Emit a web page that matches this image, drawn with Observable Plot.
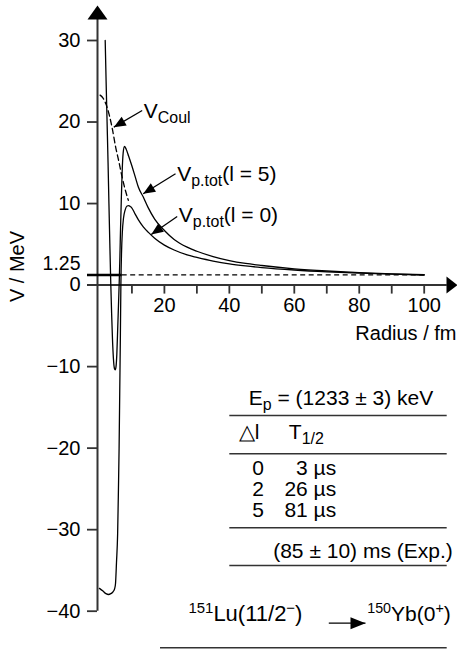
<!DOCTYPE html>
<html><head><meta charset="utf-8">
<script src="https://cdn.jsdelivr.net/npm/d3@7"></script>
<script src="https://cdn.jsdelivr.net/npm/@observablehq/plot@0.6"></script>
<style>html,body{margin:0;padding:0;background:#fff;}#chart svg{display:block;}</style>
</head><body><div id="chart"></div>
<script>
// ---------- data ----------
const radiusL0 = [0, 1, 2, 2.8, 3.5, 4.0, 4.4, 4.7, 4.95, 5.25, 5.6, 5.85, 6.05, 6.25, 6.45, 6.6, 6.8, 7.05, 7.4, 7.9, 8.5, 9.0, 9.6, 10, 11, 12, 13.5, 15, 17, 20, 23, 27, 30, 35, 40, 45, 50, 60, 70, 80, 90, 100];
const potentialL0 = [-37.2, -37.5, -37.85, -37.95, -37.85, -37.7, -37.5, -37.2, -36.6, -34, -30.5, -25, -20, -13, -6, 0, 4, 6.5, 8.2, 9.2, 9.7, 9.75, 9.6, 9.45, 8.7, 8.0, 7.15, 6.5, 5.75, 4.9, 4.3, 3.7, 3.4, 2.95, 2.6, 2.35, 2.15, 1.85, 1.63, 1.47, 1.34, 1.24];
const radiusL5 = [1.77, 2.05, 2.35, 2.65, 2.92, 3.2, 3.5, 3.75, 4.0, 4.3, 4.6, 4.85, 5.1, 5.35, 5.65, 5.9, 6.1, 6.3, 6.5, 6.75, 7.0, 7.3, 7.7, 8.2, 9, 10, 11, 12, 13.5, 15, 17, 20, 23, 27, 30, 35, 40, 45, 50, 60, 70, 80, 90, 100];
const potentialL5 = [30, 25, 20, 15, 10, 5, 0, -3.5, -6.5, -9, -10.2, -10.4, -10, -8.5, -5, -2, 0.5, 3.5, 7, 10.8, 14, 16.2, 17.0, 16.7, 15.8, 14.6, 13.3, 12.0, 10.8, 9.5, 8.1, 6.7, 5.6, 4.65, 4.15, 3.5, 3.0, 2.65, 2.4, 2.0, 1.73, 1.53, 1.38, 1.27];
const radiusCoul = [0.2, 1, 2, 3, 4, 5, 5.9, 7, 8, 8.9];
const potentialCoul = [23.3, 23.0, 22.2, 20.9, 19.1, 16.9, 15.3, 13.2, 11.6, 10.4];
const protonEnergy = 1.25;
const xTicks = [10, 20, 30, 40, 50, 60, 70, 80, 90, 100];
const xTickLabels = [20, 40, 60, 80, 100];
const yTicks = [30, 20, 10, 0, -10, -20, -30, -40];
const deltaL = [0, 2, 5];
const halfLives = ["3 µs", "26 µs", "81 µs"];
const labelCoul = "V_{Coul}";
const labelL5 = "V_{p.tot}(l = 5)";
const labelL0 = "V_{p.tot}(l = 0)";
const tableTitle = "E_{p} = (1233 ± 3) keV";
const tableHead = ["△l", "T_{1/2}"];
const expLine = "(85 ± 10) ms (Exp.)";
const decayFrom = "^{151}Lu(11/2^{−})";
const decayTo = "^{150}Yb(0^{+})";

// ---------- layout ----------
const W = 457, H = 649;
const mL = 97, mR = 33.3, mT = 40, mB = 38.3;
const xDomain = [-0.6, 100], yDomain = [-40, 30];
const KX = (W - mL - mR) / (xDomain[1] - xDomain[0]);
const KY = (H - mT - mB) / (yDomain[1] - yDomain[0]);
const ink = "#000", axisInk = "#333";
const FONT = "'Liberation Sans', Arial, Helvetica, sans-serif";
const fsTick = 20, fsAnn = 21, fsDecay = 22;

const yAxisX = xDomain[0], yAxisTop = 32.7, yArrowTip = 34.3;
const xAxisLeft = -3.68, xAxisRight = 107.1, xArrowTip = 110.25;

const l0Data = radiusL0.map((r, i) => ({r, V: potentialL0[i]}));
const l5Data = radiusL5.map((r, i) => ({r, V: potentialL5[i]}));
const coulData = radiusCoul.map((r, i) => ({r, V: potentialCoul[i]}));

function headSymbol(len, width, angleDeg) {
  const a = angleDeg * Math.PI / 180, c = Math.cos(a), s = Math.sin(a);
  const pts = [[0, 0], [-width / 2, len], [width / 2, len]].map(([x, y]) => [x * c - y * s, x * s + y * c]);
  return {draw(ctx) { ctx.moveTo(pts[0][0], pts[0][1]); ctx.lineTo(pts[1][0], pts[1][1]); ctx.lineTo(pts[2][0], pts[2][1]); ctx.closePath(); }};
}
function angleOf(from, to) {
  const dx = (to[0] - from[0]) * KX, dy = -(to[1] - from[1]) * KY;
  return Math.atan2(dx, -dy) * 180 / Math.PI;
}
function arrow(from, to, len, width, sw = 1.3) {
  return [
    Plot.link([0], {x1: () => from[0], y1: () => from[1], x2: () => to[0], y2: () => to[1], stroke: ink, strokeWidth: sw}),
    Plot.dot([0], {x: () => to[0], y: () => to[1], r: 5, symbol: headSymbol(len, width, angleOf(from, to)), fill: ink, strokeWidth: 0})
  ];
}
function label(text, x, y, opts = {}) {
  return Plot.text([text], {x: () => x, y: () => y, text: d => d, textAnchor: "start", fontSize: fsAnn, fill: ink, ...opts});
}

const tableX1 = 40.14, tableX2 = 107.08;
const tableRules = [-16.0, -20.69, -29.77, -34.39];
const rowY = [-22.45, -25.03, -27.57];

const chart = Plot.plot({
  width: W, height: H,
  marginLeft: mL, marginRight: mR, marginTop: mT, marginBottom: mB,
  x: {domain: xDomain, axis: null},
  y: {domain: yDomain, axis: null},
  style: {fontFamily: FONT, fontSize: "20px", color: "#000", background: "#fff", overflow: "visible"},
  marks: [
    // axes
    Plot.ruleX([yAxisX], {y1: yDomain[0], y2: yAxisTop, stroke: axisInk, strokeWidth: 2}),
    Plot.dot([0], {x: () => yAxisX, y: () => yArrowTip, r: 5, symbol: headSymbol(14, 20, 0), fill: ink, strokeWidth: 0}),
    Plot.ruleY([0], {x1: xAxisLeft, x2: xAxisRight, stroke: axisInk, strokeWidth: 2}),
    Plot.dot([0], {x: () => xArrowTip, y: () => 0, r: 5, symbol: headSymbol(11, 17, 90), fill: ink, strokeWidth: 0}),
    Plot.ruleY(yTicks, {y: d => d, x1: yAxisX, x2: yAxisX - 10 / KX, stroke: axisInk, strokeWidth: 1.8}),
    Plot.text(yTicks, {x: yAxisX, y: d => d, text: d => d3.format("d")(d), textAnchor: "end", dx: -17, fontSize: fsTick, fill: ink}),
    Plot.ruleX(xTicks, {x: d => d, y1: 0, y2: -9 / KY, stroke: axisInk, strokeWidth: 1.8}),
    Plot.text(xTickLabels, {x: d => d, y: 0, dy: 21, text: d => String(d), fontSize: fsTick, fill: ink}),
    Plot.text(["V / MeV"], {x: () => -25.08, y: () => 2.28, text: d => d, rotate: -90, fontSize: fsTick, fill: ink}),
    Plot.text(["Radius / fm"], {x: () => 109.95, y: () => -5.94, text: d => d, textAnchor: "end", fontSize: fsTick, fill: ink}),
    Plot.text([protonEnergy], {x: () => -5.83, y: () => 2.6, text: d => String(d), textAnchor: "end", fontSize: 19.5, fill: ink}),

    // proton energy level
    Plot.ruleY([protonEnergy], {x1: xAxisLeft, x2: 7.0, stroke: ink, strokeWidth: 2.5}),
    Plot.ruleY([protonEnergy], {x1: 7.0, x2: 100, stroke: ink, strokeWidth: 1.3, strokeDasharray: "5,3.5"}),

    // potentials
    Plot.line(coulData, {x: "r", y: "V", stroke: ink, strokeWidth: 1.3, strokeDasharray: "5.5,3.5", curve: "monotone-x"}),
    Plot.line(l0Data, {x: "r", y: "V", stroke: ink, strokeWidth: 1.3, curve: "monotone-x"}),
    Plot.line(l5Data, {x: "r", y: "V", stroke: ink, strokeWidth: 1.3, curve: "monotone-x"}),

    // curve labels
    label(labelCoul, 13.66, 21.34),
    ...arrow([13.16, 21.41], [4.42, 19.37], 12, 10),
    label(labelL5, 23.94, 13.61),
    ...arrow([23.42, 13.65], [13.47, 11.2], 12, 10),
    label(labelL0, 24.43, 8.52),
    ...arrow([23.94, 8.41], [15.94, 6.21], 12, 10),

    // table
    label(tableTitle, 45.99, -13.86),
    Plot.ruleY(tableRules, {y: d => d, x1: tableX1, x2: tableX2, stroke: axisInk, strokeWidth: 1.6}),
    label(tableHead[0], 42.91, -18.03),
    label(tableHead[1], 58.31, -18.03),
    Plot.text(deltaL, {x: () => 48.88, y: (d, i) => rowY[i], text: d => String(d), fontSize: fsAnn, fill: ink}),
    Plot.text(halfLives, {x: () => 72.9, y: (d, i) => rowY[i], text: d => d, textAnchor: "end", fontSize: fsAnn, fill: ink}),
    label(expLine, 53.5, -32.59),

    // decay
    label(decayFrom, 27.4, -40.35, {fontSize: fsDecay}),
    label(decayTo, 82.45, -40.35),
    ...arrow([70.62, -41.47], [81.92, -41.47], 15, 12),
    Plot.ruleY([-44.49], {x1: 18.8, x2: tableX2, stroke: axisInk, strokeWidth: 1.6})
  ]
});

document.getElementById("chart").appendChild(chart);

// rich text: _{sub} and ^{sup}
chart.querySelectorAll("text").forEach(t => {
  const s = t.textContent;
  if (!/[_^]\{/.test(s)) return;
  const fs = parseFloat(getComputedStyle(t).fontSize) || fsAnn;
  let base = 0;
  const pdy = t.getAttribute("dy");
  if (pdy) {
    base = pdy.endsWith("em") ? parseFloat(pdy) * fs : parseFloat(pdy);
    t.removeAttribute("dy");
  }
  t.textContent = "";
  const re = /([_^])\{([^}]*)\}|([^_^]+)/g;
  let m, shift = 0, first = true;
  while ((m = re.exec(s))) {
    const ts = document.createElementNS("http://www.w3.org/2000/svg", "tspan");
    let target, txt;
    if (m[1]) {
      const sub = m[1] === "_";
      target = sub ? 0.24 * fs : -0.38 * fs;
      ts.setAttribute("style", "font-size:" + (sub ? 76 : 68) + "%");
      txt = m[2];
    } else {
      target = 0;
      txt = m[3];
    }
    ts.setAttribute("dy", (target - shift + (first ? base : 0)).toFixed(2));
    shift = target;
    first = false;
    ts.textContent = txt;
    t.appendChild(ts);
  }
});
</script>
</body></html>
